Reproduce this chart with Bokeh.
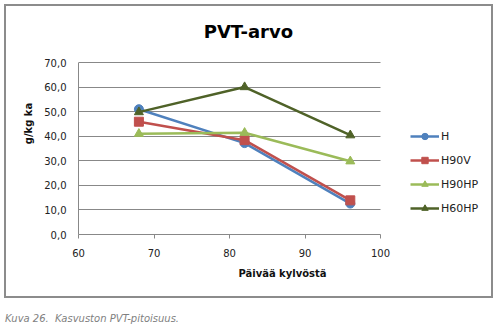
from bokeh.plotting import figure
from bokeh.models import (Legend, LegendItem, CustomJSTickFormatter, FixedTicker, Range1d, Div, Label)
from bokeh.layouts import column
from bokeh.embed import file_html
from bokeh.resources import INLINE

days = [68, 82, 96]
H = [51.0, 37.2, 12.6]
H90V = [45.9, 38.4, 13.9]
H90HP = [41.0, 41.4, 29.8]
H60HP = [49.8, 60.0, 40.4]
x_ticks = [60, 70, 80, 90, 100]
y_ticks = [0, 10, 20, 30, 40, 50, 60, 70]
title_text = "PVT-arvo"
caption_text = "Kuva 26.  Kasvuston PVT-pitoisuus."

# layout (pixels): canvas W x HP; axis 60..100 spans 302 px, 0..70 spans 172 px.
# The frame reaches further right and up to hold the legend and title.
W, HP = 489, 294
ML, MR, MT, MB = 72, 9, 6, 66
frame_w = W - ML - MR
frame_h = HP - MT - MB
x_end = 60 + 40 * frame_w / 302.0
y_end = 70 * frame_h / 172.0

p = figure(width=W, height=HP, output_backend="svg", toolbar_location=None,
           x_range=Range1d(60, x_end), y_range=Range1d(0, y_end),
           min_border_left=ML, min_border_right=MR, min_border_top=MT, min_border_bottom=MB,
           margin=(4, 0, 0, 4),
           styles={"border": "2px solid #8c8c8c", "box-sizing": "border-box"})
p.background_fill_color = "white"
p.border_fill_color = "white"
p.outline_line_color = None

p.xgrid.grid_line_color = None
p.ygrid.grid_line_color = "#888888"
p.ygrid.grid_line_width = 1
p.ygrid.cross_bounds = (60, 100)
p.yaxis.ticker = FixedTicker(ticks=y_ticks)
p.xaxis.ticker = FixedTicker(ticks=x_ticks)
p.xaxis.bounds = (60, 100)
p.yaxis.bounds = (0, 70)
p.yaxis.formatter = CustomJSTickFormatter(code="return tick.toFixed(1).replace('.', ',');")

for ax in (p.xaxis, p.yaxis):
    ax.axis_line_color = "#888888"
    ax.major_tick_line_color = "#888888"
    ax.minor_tick_line_color = None
    ax.major_label_text_font = "DejaVu Sans"
    ax.major_label_text_font_size = "10px"
    ax.major_label_text_color = "#222222"
    ax.axis_label_text_font = "DejaVu Sans"
    ax.axis_label_text_font_size = "10px"
    ax.axis_label_text_font_style = "bold"
    ax.axis_label_text_color = "#111111"

p.yaxis.major_tick_in = 0
p.yaxis.major_tick_out = 0
p.yaxis.major_label_standoff = 12
p.yaxis.axis_label = "g/kg ka"
p.yaxis.axis_label_standoff = 7
p.xaxis.major_tick_in = 0
p.xaxis.major_tick_out = 4
p.xaxis.major_label_standoff = 10
p.xaxis.axis_label = "Päivää kylvöstä"
p.xaxis.axis_label_standoff = 8

series = [
    ("H", H, "#4F81BD", "circle"),
    ("H90V", H90V, "#C0504D", "square"),
    ("H90HP", H90HP, "#9BBB59", "triangle"),
    ("H60HP", H60HP, "#4F6228", "triangle"),
]
items = []
for name, vals, col, mk in series:
    lr = p.line(days, vals, line_color=col, line_width=2.5)
    sr = p.scatter(days, vals, marker=mk, size=9, fill_color=col, line_color=col)
    items.append(LegendItem(label=name, renderers=[lr, sr]))

legend = Legend(items=items, location=(332, 18), orientation="vertical",
                glyph_width=29, glyph_height=16, label_height=16, spacing=8,
                padding=0, margin=0, label_standoff=2,
                label_text_font="DejaVu Sans", label_text_font_size="11px",
                label_text_color="#222222", border_line_color=None,
                background_fill_alpha=0)
p.add_layout(legend, "center")

title = Label(x=82.5, y=82.6, text=title_text, text_align="center", text_baseline="middle",
              text_font="DejaVu Sans", text_font_size="18px", text_font_style="bold",
              text_color="#000000")
p.add_layout(title)

cap = Div(text=caption_text, width=300, height=14,
          margin=(15, 0, 0, 5),
          styles={"font-family": "DejaVu Sans", "font-style": "italic", "font-size": "10px",
                  "color": "#7f7f7f", "line-height": "12px", "white-space": "pre"})

layout = column(p, cap, width=500, height=336)

open("out.html", "w").write(file_html(layout, INLINE))
